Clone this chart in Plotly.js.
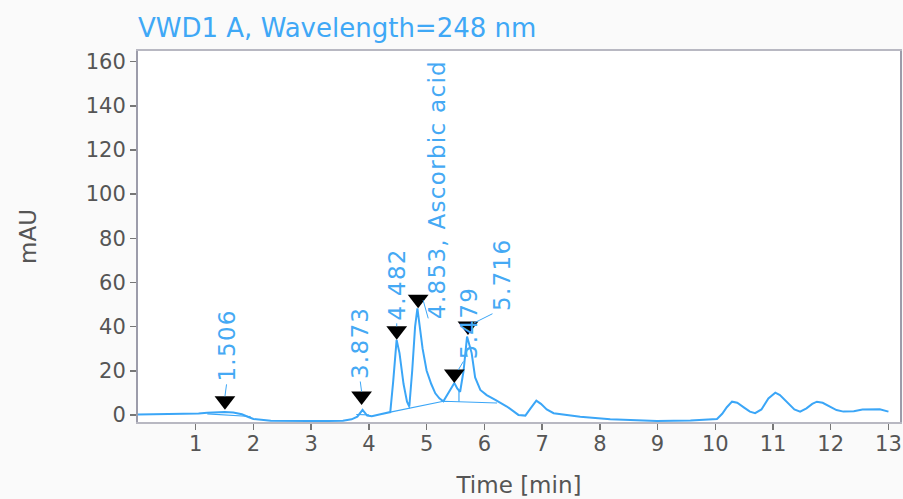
<!DOCTYPE html>
<html><head><meta charset="utf-8">
<script src="https://cdn.plot.ly/plotly-3.0.1.min.js"></script>
<style>html,body{margin:0;padding:0;background:#fafafa;} #chart{width:903px;height:499px;}
.annotation-text{letter-spacing:1.3px;}</style>
</head><body><div id="chart"></div>
<script>
// ---- data ----
const timeMin = [0, 0.5, 0.9, 1.05, 1.2, 1.35, 1.5, 1.65, 1.8, 1.9, 2.0, 2.3, 2.7, 3.2, 3.55, 3.7, 3.8, 3.89, 3.97, 4.05,
  4.2, 4.37, 4.42, 4.48, 4.53, 4.6, 4.66, 4.70, 4.75, 4.8, 4.84, 4.88, 4.93, 5.0, 5.08, 5.15, 5.22, 5.29, 5.38, 5.48,
  5.53, 5.58, 5.64, 5.70, 5.78, 5.84, 5.93, 6.04, 6.19, 6.39, 6.59, 6.71, 6.8, 6.9, 6.98, 7.08, 7.2, 7.43, 7.66, 8.18,
  8.6, 8.99, 9.57, 10.03, 10.12, 10.2, 10.29, 10.38, 10.5, 10.6, 10.69, 10.8, 10.92, 11.04, 11.12, 11.25, 11.37, 11.47, 11.58, 11.68,
  11.76, 11.86, 11.98, 12.1, 12.22, 12.4, 12.55, 12.7, 12.85, 13.0];
const signalMAU = [0.2, 0.3, 0.3, 0.6, 1.0, 1.3, 1.3, 1.1, 0.3, -0.8, -1.8, -2.6, -2.8, -2.8, -2.6, -2.0, -0.8, 2.3, -0.3, -0.6,
  0.3, 1.3, 15, 34, 28, 14, 6, 3.8, 20, 40, 48.3, 41, 30, 20, 14, 9.8, 7.5, 6.2, 10, 14.5,
  12, 10.5, 20, 35.5, 28, 17, 11.3, 9, 6.8, 3.8, 0, -0.3, 3, 6.5, 5, 2.5, 0.8, 0, -0.8, -2,
  -2.3, -2.7, -2.5, -1.8, 0.5, 3.5, 6, 5.5, 3.3, 1.5, 0.8, 2.5, 7.5, 10.1, 9, 5.5, 2.5, 1.5, 3, 5,
  6, 5.5, 3.8, 2.2, 1.5, 1.7, 2.5, 2.7, 2.6, 1.5];
// integration baselines and drop lines (null separates segments)
const baselineTime = [1.2, 1.95, null, 3.78, 4.0, null, 4.37, 5.29, 6.22, null, 4.70, 4.70, null, 5.56, 5.56];
const baselineMAU  = [0.5, -0.7, null, 0.2, 0.0, null, 1.3, 6.2, 5.4, null, 3.8, 2.9, null, 11.2, 6.0];
// peak table
const peakRT = [1.506, 3.873, 4.482, 4.853, 5.479, 5.716];
const peakApex = [2.3, 4.5, 34, 48.3, 14.5, 36.2];
const peakLabels = ['1.506', '3.873', '4.482', '4.853, Ascorbic acid', '5.479', '5.716'];
// ticks
const xTickVals = [1, 2, 3, 4, 5, 6, 7, 8, 9, 10, 11, 12, 13];
const yTickVals = [0, 20, 40, 60, 80, 100, 120, 140, 160];

// ---- layout / styling ----
const W = 903, H = 499;
const margin = {l: 138, r: 3, t: 51, b: 77, pad: 0};
const xRange = [0, 13.2];
const yRange = [-3.2, 164.8];
const plotH = H - margin.t - margin.b;
const mauPerPx = (yRange[1] - yRange[0]) / plotH;
const markerSize = 18;
const blue = '#3ba6f7';
const labelBlue = '#45a9f4';
const FONT = 'DejaVu Sans';

const markerY = peakApex.map(v => v + (markerSize / 2) * mauPerPx);

// label placement (px, relative to the peak apex) and leader lines
const labelShift = [[1.8, 27], [-1.5, 25], [0, 18], [19.5, -11.6], [15, 23], [34, 23]];
const leader = [
  {hx: 0, hy: 13.5, ax: 1.8, ay: -13.5},
  {hx: 0, hy: 13.5, ax: -1.5, ay: -11.5},
  {hx: 0, hy: 13.5, ax: 0, ay: -4.5},
  {hx: 5, hy: 8, ax: 5.5, ay: 19.6},
  {hx: 4, hy: 13, ax: 6, ay: -10},
  {hx: 6, hy: 12, ax: 20, ay: -10}
];

const annotations = [];
peakRT.forEach((rt, i) => {
  annotations.push({
    x: rt, y: peakApex[i], xref: 'x', yref: 'y',
    text: '', showarrow: true, arrowhead: 0, arrowwidth: 1, arrowcolor: blue,
    xshift: leader[i].hx, yshift: leader[i].hy, ax: leader[i].ax, ay: leader[i].ay, standoff: 0, startstandoff: 0
  });
  annotations.push({
    x: rt, y: peakApex[i], xref: 'x', yref: 'y',
    text: peakLabels[i], showarrow: false, textangle: -90,
    xanchor: 'center', yanchor: 'bottom',
    xshift: labelShift[i][0], yshift: labelShift[i][1],
    font: {family: FONT, size: 23, color: labelBlue}, borderpad: 0
  });
});

const traces = [
  {x: timeMin, y: signalMAU, type: 'scatter', mode: 'lines',
   line: {color: blue, width: 2}, hoverinfo: 'skip'},
  {x: baselineTime, y: baselineMAU, type: 'scatter', mode: 'lines', connectgaps: false,
   line: {color: blue, width: 1.2}, hoverinfo: 'skip'},
  {x: peakRT, y: markerY, type: 'scatter', mode: 'markers',
   marker: {symbol: 'triangle-down', size: markerSize, color: '#000'}, hoverinfo: 'skip'}
];

const layout = {
  width: W, height: H, margin: margin,
  paper_bgcolor: '#fafafa', plot_bgcolor: '#ffffff',
  showlegend: false,
  font: {family: FONT, color: '#555'},
  title: {text: 'VWD1 A, Wavelength=248 nm', font: {family: FONT, size: 26, color: '#3fa8f6'},
          x: 0, xref: 'paper', xanchor: 'left', y: 1 - 28 / H, yref: 'container', yanchor: 'middle'},
  xaxis: {range: xRange, tickvals: xTickVals, ticks: 'outside', ticklen: 6, tickwidth: 1.5, tickcolor: '#777',
          showline: true, linecolor: '#b8b8c2', linewidth: 2, mirror: true, showgrid: false, zeroline: false,
          tickfont: {family: FONT, size: 21, color: '#555'}, ticklabelstandoff: -4,
          title: {text: 'Time [min]', font: {family: FONT, size: 23, color: '#555'}, standoff: 22}},
  yaxis: {range: yRange, tickvals: yTickVals, ticks: 'outside', ticklen: 6, tickwidth: 1.5, tickcolor: '#777',
          showline: true, linecolor: '#9c9caa', linewidth: 2, mirror: true, showgrid: false, zeroline: false,
          tickfont: {family: FONT, size: 21, color: '#555'}, ticklabelstandoff: 0,
          title: {text: 'mAU', font: {family: FONT, size: 23, color: '#555'}, standoff: 43}},
  annotations: annotations
};

Plotly.newPlot('chart', traces, layout, {displayModeBar: false, staticPlot: true});
</script>
</body></html>
